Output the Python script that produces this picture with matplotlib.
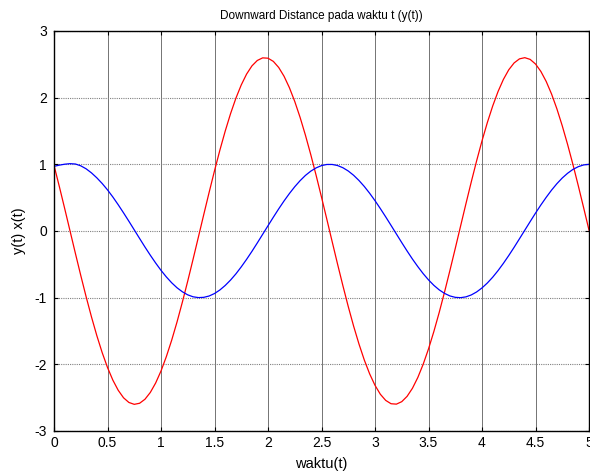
import matplotlib
matplotlib.use("Agg")
import matplotlib.pyplot as plt

plt.rcParams['font.family'] = ['Liberation Sans', 'DejaVu Sans']
plt.rcParams['axes.unicode_minus'] = False

# waktu t: 0 .. 5, step 0.05
t = [i / 20 for i in range(101)]

# x(t), blue curve
x_t = [0.970, 0.988, 1.002, 1.010, 1.005, 0.978, 0.933, 0.872, 0.798, 0.713,
       0.617, 0.510, 0.394, 0.272, 0.146, 0.017, -0.112, -0.240, -0.363, -0.480,
       -0.590, -0.689, -0.777, -0.852, -0.912, -0.958, -0.987, -0.999, -0.995, -0.975,
       -0.938, -0.885, -0.817, -0.736, -0.643, -0.538, -0.425, -0.305, -0.179, -0.050,
       0.079, 0.207, 0.332, 0.451, 0.562, 0.664, 0.755, 0.834, 0.898, 0.947,
       0.981, 0.998, 0.998, 0.982, 0.949, 0.900, 0.836, 0.758, 0.668, 0.566,
       0.455, 0.336, 0.212, 0.084, -0.045, -0.174, -0.300, -0.421, -0.534, -0.639,
       -0.733, -0.815, -0.883, -0.936, -0.974, -0.995, -1.000, -0.988, -0.959, -0.914,
       -0.854, -0.780, -0.693, -0.594, -0.485, -0.368, -0.245, -0.117, 0.012, 0.141,
       0.268, 0.390, 0.505, 0.613, 0.710, 0.795, 0.866, 0.924, 0.965, 0.991,
       1.000]

# y(t), red curve
y_t = [0.985, 0.666, 0.336, 0.000, -0.336, -0.666, -0.985, -1.287, -1.568, -1.823,
       -2.047, -2.237, -2.389, -2.502, -2.572, -2.600, -2.584, -2.524, -2.422, -2.280,
       -2.100, -1.884, -1.637, -1.363, -1.065, -0.750, -0.422, -0.087, 0.249, 0.581,
       0.903, 1.211, 1.498, 1.760, 1.992, 2.191, 2.354, 2.477, 2.558, 2.597,
       2.592, 2.544, 2.453, 2.321, 2.150, 1.943, 1.704, 1.436, 1.144, 0.833,
       0.508, 0.175, -0.162, -0.496, -0.821, -1.133, -1.426, -1.694, -1.935, -2.143,
       -2.315, -2.449, -2.541, -2.591, -2.597, -2.560, -2.480, -2.359, -2.198, -2.000,
       -1.769, -1.508, -1.222, -0.915, -0.593, -0.262, 0.075, 0.410, 0.738, 1.054,
       1.352, 1.627, 1.875, 2.092, 2.274, 2.418, 2.521, 2.582, 2.600, 2.574,
       2.505, 2.394, 2.243, 2.055, 1.832, 1.578, 1.298, 0.997, 0.678, 0.348,
       0.013]

xticks = [0, 0.5, 1, 1.5, 2, 2.5, 3, 3.5, 4, 4.5, 5]
xtick_labels = ['0', '0.5', '1', '1.5', '2', '2.5', '3', '3.5', '4', '4.5', '5']
yticks = [-3, -2, -1, 0, 1, 2, 3]

fig = plt.figure(figsize=(5.9, 4.74), dpi=100)
ax = fig.add_axes([54 / 590, 1 - 431 / 474, 535 / 590, 400 / 474])

ax.plot(t, y_t, color='red', linewidth=0.9)
ax.plot(t, x_t, color='blue', linewidth=0.9)

ax.set_xlim(0, 5)
ax.set_ylim(-3, 3)
ax.set_xticks(xticks)
ax.set_xticklabels(xtick_labels)
ax.set_yticks(yticks)
ax.tick_params(direction='in', top=True, right=True, labelsize=10, length=3, width=0.8)
ax.tick_params(axis='y', pad=5)
ax.xaxis.grid(True, color='0.45', linestyle='-', linewidth=0.7)
ax.yaxis.grid(True, color='0.5', linestyle=(0, (1, 1)), linewidth=0.8)
for s in ax.spines.values():
    s.set_linewidth(1.0)

ax.set_title('Downward Distance pada waktu t (y(t))', fontsize=8.5, pad=9)
ax.set_xlabel('waktu(t)', fontsize=10.5, labelpad=5)
ax.set_ylabel('y(t) x(t)', fontsize=10.5, labelpad=6)

fig.savefig('out.png', dpi=100)
